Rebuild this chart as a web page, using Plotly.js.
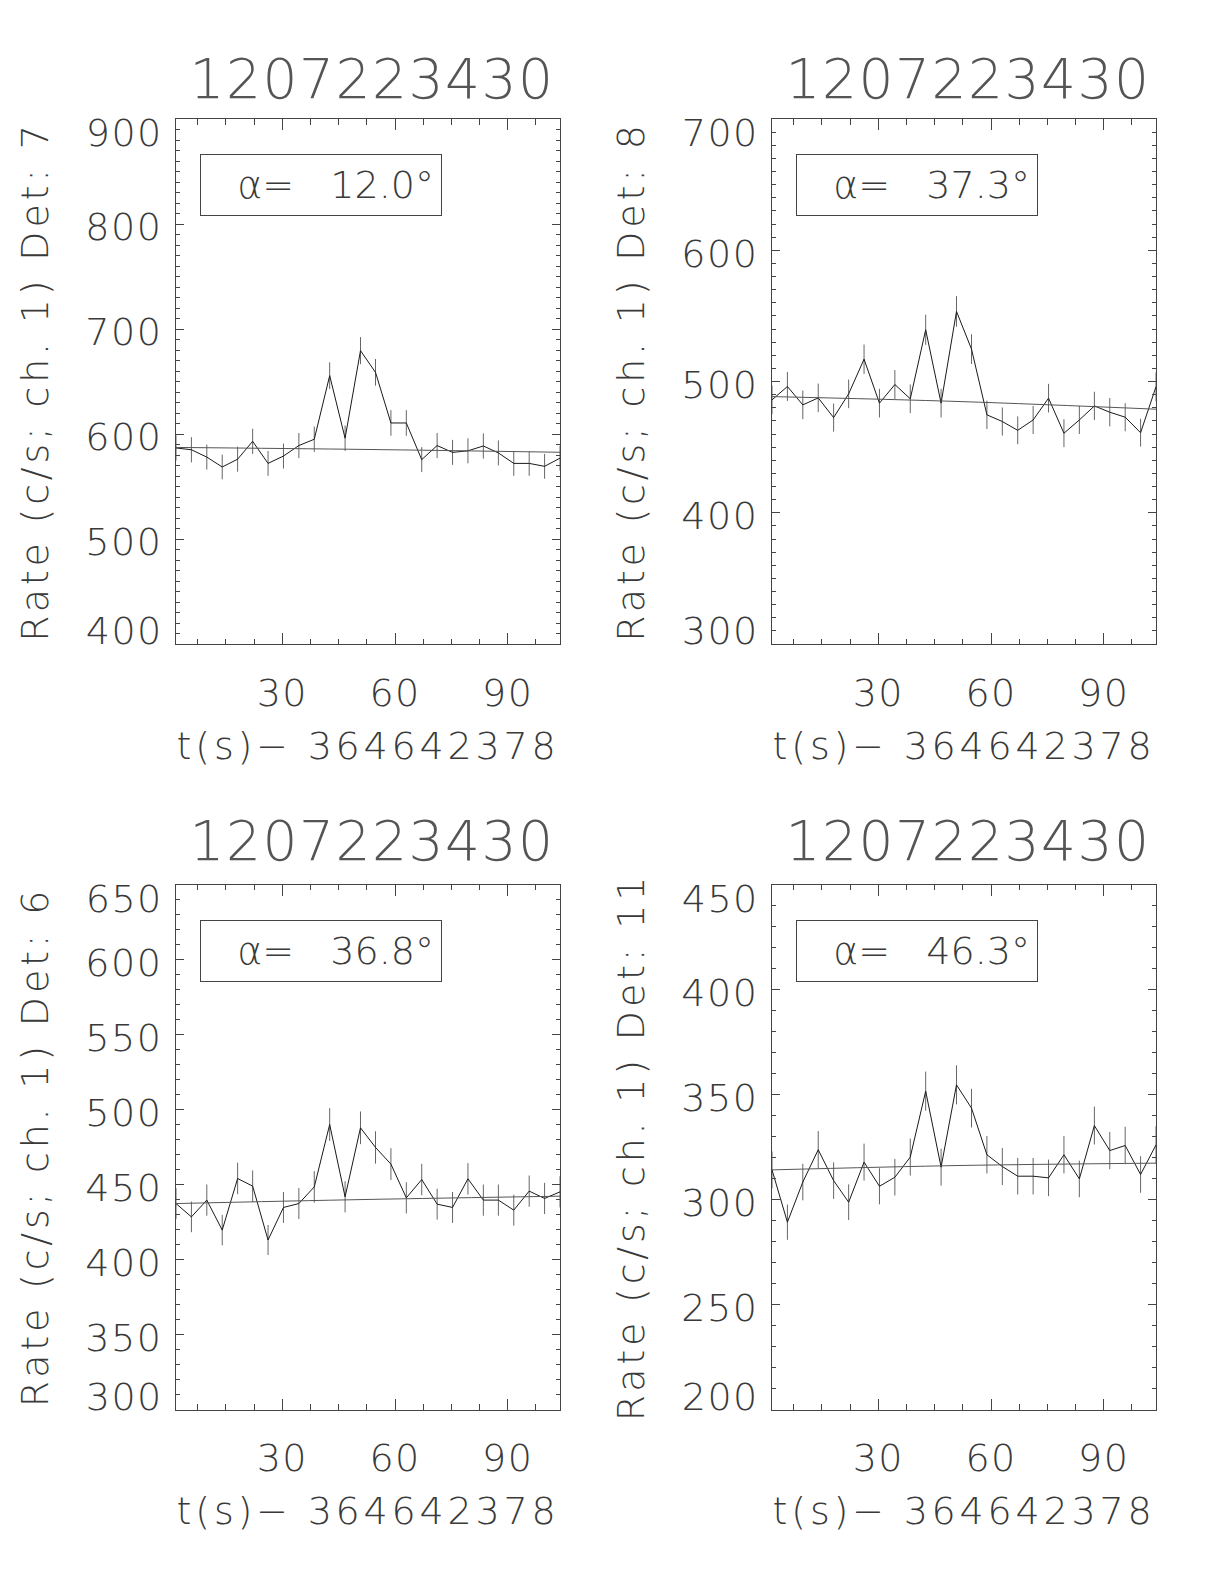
<!DOCTYPE html>
<html>
<head>
<meta charset="utf-8">
<script src="https://cdn.plot.ly/plotly-3.0.1.min.js"></script>
<style>
html,body{margin:0;padding:0;background:#fff;}
#chart{width:1224px;height:1584px;}
#chart .xtitle, #chart .x2title, #chart .x3title, #chart .x4title,
#chart .ytitle, #chart .y2title, #chart .y3title, #chart .y4title {letter-spacing:3.8px;}
#chart g[class$="tick"] text {letter-spacing:1.5px;}
#chart .annotation-text {letter-spacing:1.5px;}
</style>
</head>
<body>
<div id="chart"></div>
<script>
// time bins (s) after 364642378
const timeBins = [1.7, 5.8, 9.9, 14.0, 18.1, 22.1, 26.2, 30.3, 34.4, 38.5, 42.6, 46.7, 50.8, 54.8, 58.9, 63.0, 67.1, 71.2, 75.3, 79.4, 83.5, 87.5, 91.6, 95.7, 99.8, 103.9];
const fitTimes = [1.7, 52.0, 103.9];

// Det 7
const rateDet7 = [586.7, 585, 578, 568.6, 576, 593, 572, 579, 589, 595, 655.6, 596, 679.4, 658.7, 610.5, 610.5, 575.6, 589, 582.5, 584, 588.6, 582, 572, 572, 569.2, 577];
const errDet7 = [12.0, 12.0, 11.9, 11.8, 11.9, 12.0, 11.8, 11.9, 12.0, 12.1, 12.7, 12.1, 12.9, 12.7, 12.2, 12.2, 11.9, 12.0, 11.9, 11.9, 12.0, 11.9, 11.8, 11.8, 11.8, 11.9];
const fitDet7 = [587.2, 585.3, 582.6];

// Det 8
const rateDet8 = [486, 496.2, 482.2, 487.5, 472.5, 490.6, 517, 483.5, 497.7, 486.8, 539.4, 483.5, 553.4, 524.7, 474.6, 469.5, 462.8, 470.7, 487.3, 460.6, 470.7, 481.4, 476.6, 472.8, 461, 496];
const errDet8 = [10.9, 11.0, 10.9, 10.9, 10.7, 10.9, 11.2, 10.9, 11.0, 10.9, 11.5, 10.9, 11.6, 11.3, 10.8, 10.7, 10.6, 10.7, 10.9, 10.6, 10.7, 10.8, 10.8, 10.7, 10.6, 11.0];
const fitDet8 = [488.5, 484.7, 478.9];

// Det 6
const rateDet6 = [437.3, 428.4, 439.6, 419.6, 454, 448.9, 413, 434.7, 437.3, 448.4, 490, 441.8, 487.8, 474.7, 463.6, 441.1, 453.3, 436.9, 434.7, 453.8, 439.6, 439.6, 432.9, 445.6, 440.7, 445.1];
const errDet6 = [10.3, 10.2, 10.4, 10.1, 10.5, 10.5, 10.0, 10.3, 10.3, 10.5, 10.9, 10.4, 10.9, 10.8, 10.6, 10.4, 10.5, 10.3, 10.3, 10.5, 10.4, 10.4, 10.3, 10.4, 10.4, 10.4];
const fitDet6 = [437.3, 440.0, 442.2];

// Det 11
const rateDet11 = [314.1, 289.2, 308.3, 323.7, 309, 298.7, 317.8, 306.3, 310.6, 320.2, 351.6, 315.4, 354.6, 343.5, 321.3, 315.7, 311.1, 311.1, 310.3, 321.3, 309.8, 335.2, 323.3, 325.7, 311.9, 326];
const errDet11 = [8.8, 8.4, 8.7, 8.9, 8.7, 8.5, 8.8, 8.6, 8.7, 8.8, 9.3, 8.8, 9.3, 9.2, 8.9, 8.8, 8.7, 8.7, 8.7, 8.9, 8.7, 9.0, 8.9, 8.9, 8.7, 8.9];
const fitDet11 = [314.1, 316.2, 317.3];

const panelTitle = "1207223430";
const xTitle = "t(s)\u2212 364642378";
const detLabels = ["7", "8", "6", "11"];
const alphaLabels = ["12.0", "37.3", "36.8", "46.3"];
const xTickVals = [30, 60, 90];
const xTickText = ["30", "60", "90"];
const yTickVals = [
  [400, 500, 600, 700, 800, 900],
  [300, 400, 500, 600, 700],
  [300, 350, 400, 450, 500, 550, 600, 650],
  [200, 250, 300, 350, 400, 450]
];
const yTickText = [
  ["400", "500", "600", "700", "800", "900"],
  ["300", "400", "500", "600", "700"],
  ["300", "350", "400", "450", "500", "550", "600", "650"],
  ["200", "250", "300", "350", "400", "450"]
];

const panels = [
  {rate: rateDet7, err: errDet7, fit: fitDet7},
  {rate: rateDet8, err: errDet8, fit: fitDet8},
  {rate: rateDet6, err: errDet6, fit: fitDet6},
  {rate: rateDet11, err: errDet11, fit: fitDet11}
];

const FONT = "'DejaVu Sans ExtraLight', 'DejaVu Sans', sans-serif";
const TXT = '#3a3a3a';
const AX = '#444';
const LABEL_STANDOFF = 5;
const NB = '\u00a0';

const xDomains = [[176/1224, 560/1224], [772/1224, 1156/1224]];
const yDomains = [[1 - 644/1584, 1 - 119/1584], [1 - 1409.5/1584, 1 - 884.5/1584]];
const titleGap = [40, 44];

const traces = [];
const layout = {
  width: 1224, height: 1584,
  margin: {l: 0, r: 0, t: 0, b: 0},
  paper_bgcolor: '#fff', plot_bgcolor: '#fff',
  showlegend: false,
  font: {family: FONT, color: TXT, size: 38, weight: 200},
  annotations: []
};

panels.forEach((p, i) => {
  const n = i + 1;
  const xa = n === 1 ? 'x' : 'x' + n;
  const ya = n === 1 ? 'y' : 'y' + n;
  const xKey = n === 1 ? 'xaxis' : 'xaxis' + n;
  const yKey = n === 1 ? 'yaxis' : 'yaxis' + n;
  const row = Math.floor(i / 2);
  const tv = yTickVals[i], tt = yTickText[i];
  // end labels are drawn inside the axis extent (as in the original), interior ones on the ticks
  const shownText = tt.map((t, k) => (k === 0 || k === tt.length - 1) ? '' : t);

  traces.push({
    x: timeBins, y: p.rate, xaxis: xa, yaxis: ya,
    type: 'scatter', mode: 'lines',
    line: {color: '#1a1a1a', width: 1},
    error_y: {type: 'data', array: p.err, visible: true, color: '#666', thickness: 1, width: 0},
    hoverinfo: 'skip'
  });
  traces.push({
    x: fitTimes, y: p.fit, xaxis: xa, yaxis: ya,
    type: 'scatter', mode: 'lines', line: {color: '#555', width: 1, shape: 'spline'},
    hoverinfo: 'skip'
  });
  layout[xKey] = {
    domain: xDomains[i % 2], anchor: ya,
    range: [timeBins[0], timeBins[timeBins.length - 1]],
    tickmode: 'array', tickvals: xTickVals, ticktext: xTickText,
    ticks: 'inside', ticklen: 11, tickwidth: 1, tickcolor: AX,
    showline: true, linecolor: AX, linewidth: 1, mirror: 'ticks',
    showgrid: false, zeroline: false,
    minor: {tick0: 0, dtick: 7.5, ticks: 'inside', ticklen: 5.5, tickcolor: AX, showgrid: false},
    tickfont: {family: FONT, size: 38, color: TXT, weight: 200},
    ticklabelstandoff: 15,
    title: {text: xTitle, font: {family: FONT, size: 38, color: TXT, weight: 200}, standoff: 18}
  };
  layout[yKey] = {
    domain: yDomains[row], anchor: xa,
    range: [tv[0], tv[tv.length - 1]],
    tickmode: 'array', tickvals: tv, ticktext: shownText,
    ticks: 'inside', ticklen: 8, tickwidth: 1, tickcolor: AX,
    showline: true, linecolor: AX, linewidth: 1, mirror: 'ticks',
    showgrid: false, zeroline: false,
    minor: {tick0: 0, dtick: 10, ticks: 'inside', ticklen: 4, tickcolor: AX, showgrid: false},
    tickfont: {family: FONT, size: 38, color: TXT, weight: 200},
    ticklabelstandoff: LABEL_STANDOFF,
    ticklabelshift: 3,
    title: {text: 'Rate (c/s; ch. 1) Det: ' + detLabels[i], font: {family: FONT, size: 38, color: TXT, weight: 200}, standoff: 29}
  };
  // end tick labels
  [[0, 0, 13], [tt.length - 1, 1, -14]].forEach(([k, yd, ys]) => {
    layout.annotations.push({
      text: tt[k], xref: xa + ' domain', yref: ya + ' domain',
      x: 0, y: yd, xanchor: 'right', yanchor: 'middle', xshift: -(LABEL_STANDOFF + 9), yshift: ys,
      showarrow: false, borderpad: 0,
      font: {family: FONT, size: 38, color: TXT, weight: 200}
    });
  });
  layout.annotations.push({
    text: panelTitle, xref: xa + ' domain', yref: ya + ' domain',
    x: 0.51, y: 1 + titleGap[row] / 525, xanchor: 'center', yanchor: 'middle', showarrow: false,
    font: {family: FONT, size: 55, color: '#555', weight: 200}
  });
  layout.annotations.push({
    text: '<span style="letter-spacing:0px">' + NB + NB + NB + '\u03b1=' + NB + NB + NB + alphaLabels[i] + '\u00b0</span>',
    xref: xa + ' domain', yref: ya + ' domain',
    x: 0.378, y: 0.874, xanchor: 'center', yanchor: 'middle', showarrow: false,
    width: 240, height: 60, borderpad: 0, bordercolor: AX, borderwidth: 1, align: 'left',
    font: {family: FONT, size: 38, color: TXT, weight: 200}
  });
});

Plotly.newPlot('chart', traces, layout, {staticPlot: true});
</script>
</body>
</html>
